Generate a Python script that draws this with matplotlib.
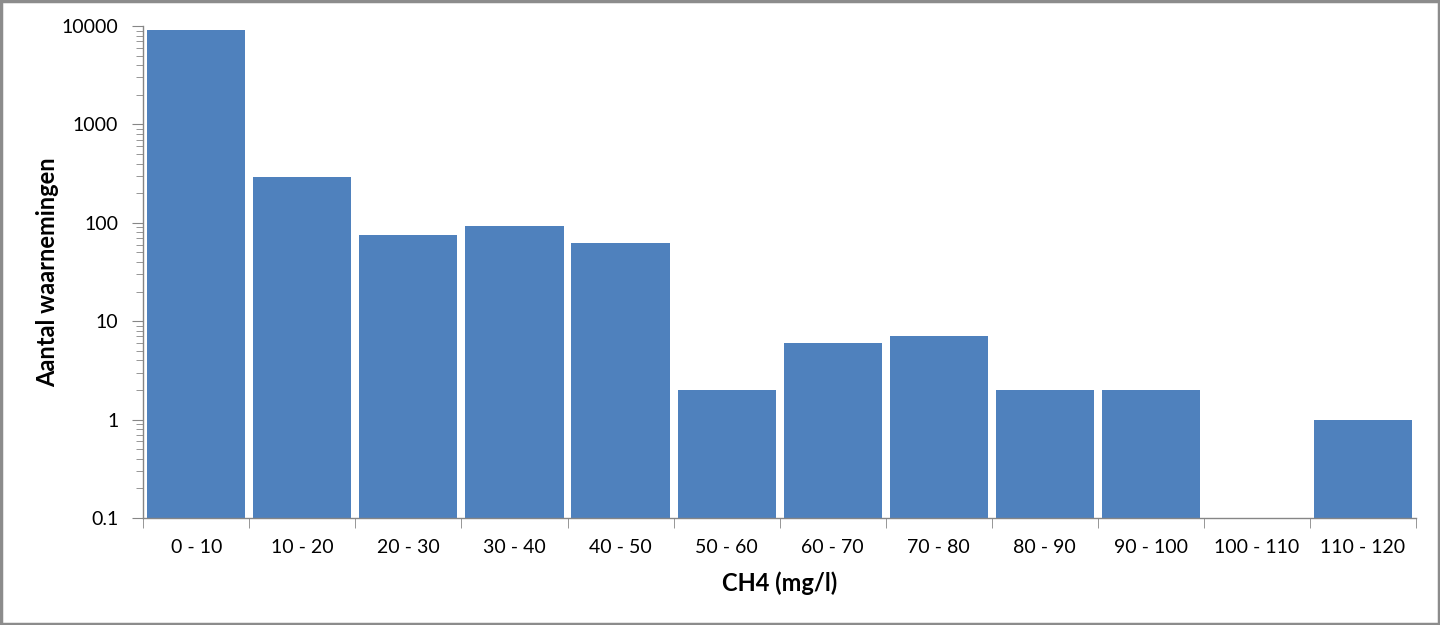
import numpy as np
import matplotlib
matplotlib.use("Agg")
import matplotlib.pyplot as plt
from matplotlib.ticker import FixedLocator, LogLocator, NullFormatter

# klassen CH4 (mg/l) en aantal waarnemingen per klasse
klassen = ["0 - 10", "10 - 20", "20 - 30", "30 - 40", "40 - 50", "50 - 60",
           "60 - 70", "70 - 80", "80 - 90", "90 - 100", "100 - 110", "110 - 120"]
aantal = [9100, 290, 75, 93, 62, 2, 6, 7, 2, 2, 0, 1]
yticks = [0.1, 1, 10, 100, 1000, 10000]
ylabels = ["0.1", "1", "10", "100", "1000", "10000"]

plt.rcParams['font.family'] = ['Lato', 'DejaVu Sans']
grijs = "#868686"

fig = plt.figure(figsize=(14.4, 6.25), dpi=100)
ax = fig.add_axes([0.0995, 0.1712, 0.8838, 0.7872])

x = np.arange(len(klassen))
waarden = np.array(aantal, dtype=float)
mask = waarden > 0
ax.bar(x[mask], waarden[mask], width=0.925, color="#4F81BD")

ax.set_yscale("log")
ax.set_ylim(0.1, 10000)
ax.set_xlim(-0.5, len(klassen) - 0.5)

ax.set_yticks(yticks)
ax.set_yticklabels(ylabels)
ax.yaxis.set_minor_locator(LogLocator(base=10, subs=np.arange(2, 10)))
ax.yaxis.set_minor_formatter(NullFormatter())

ax.set_xticks(x)
ax.set_xticklabels(klassen)
ax.xaxis.set_minor_locator(FixedLocator(np.arange(-0.5, len(klassen), 1.0)))

ax.tick_params(axis="x", which="major", length=0, pad=15, labelsize=14)
ax.tick_params(axis="x", which="minor", length=7, color=grijs, direction="out")
ax.tick_params(axis="y", which="major", length=8, color=grijs, labelsize=14, pad=10)
ax.tick_params(axis="y", which="minor", length=5, color=grijs)

for s in ["top", "right"]:
    ax.spines[s].set_visible(False)
for s in ["left", "bottom"]:
    ax.spines[s].set_color(grijs)
    ax.spines[s].set_linewidth(1)

ax.set_xlabel("CH4 (mg/l)", fontsize=17, fontweight="bold", labelpad=11)
ax.set_ylabel("Aantal waarnemingen", fontsize=17, fontweight="bold", labelpad=2)

# grijze rand rond de figuur
fig.patches.append(plt.Rectangle((0.001, 0.002), 0.998, 0.996, transform=fig.transFigure,
                                 fill=False, edgecolor="#8c8c8c", linewidth=2.5))

fig.savefig("out.png", dpi=100)
